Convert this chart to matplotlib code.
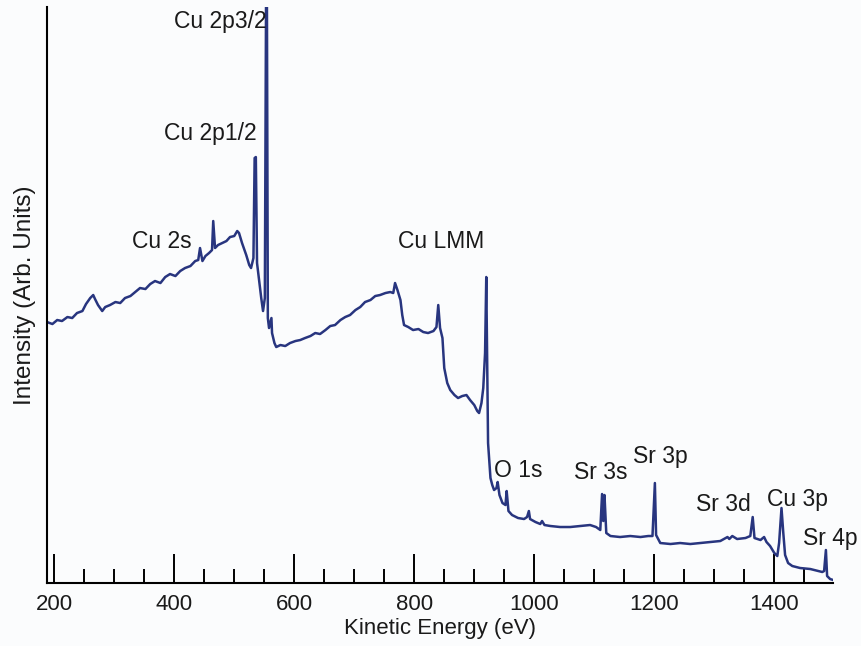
import matplotlib.pyplot as plt
from matplotlib.ticker import MultipleLocator

# XPS survey spectrum (kinetic energy in eV, intensity in arbitrary units)
energy = [188, 197, 205, 213, 222, 230, 238, 247, 253, 260, 265, 268, 273, 280,
          285, 293, 302, 310, 318, 327, 335, 343, 352, 360, 368, 377, 385, 393,
          402, 410, 418, 427, 435, 440, 443, 447, 452, 458, 463, 465, 468, 473,
          480, 487, 493, 500, 505, 508, 513, 520, 525, 528, 532, 534, 536, 538,
          542, 545, 548, 551, 553, 554.5, 556, 558, 562, 563, 567, 570, 577, 585,
          593, 602, 610, 618, 627, 635, 643, 652, 660, 668, 677, 685, 693, 702,
          710, 718, 727, 735, 743, 752, 760, 765, 768, 772, 777, 780, 783, 790,
          798, 807, 815, 823, 832, 837, 840, 843, 847, 850, 855, 860, 867, 873,
          880, 887, 893, 900, 905, 908, 912, 915, 918, 920, 922, 923, 927, 930,
          933, 937, 939, 942, 947, 952, 954, 957, 963, 973, 983, 988, 991, 993,
          1002, 1010, 1013, 1017, 1027, 1043, 1060, 1077, 1093, 1103, 1110, 1113,
          1115, 1117, 1120, 1127, 1143, 1160, 1177, 1190, 1197, 1201, 1203, 1210,
          1227, 1243, 1260, 1277, 1293, 1310, 1322, 1325, 1330, 1338, 1352, 1360,
          1364, 1367, 1377, 1383, 1387, 1393, 1400, 1405, 1408, 1412, 1415, 1418,
          1423, 1430, 1443, 1460, 1473, 1480, 1483, 1486, 1488, 1493, 1498]
intensity = [261, 259, 263, 262, 266, 265, 270, 272, 279, 285, 288, 284, 278, 272,
             276, 278, 281, 280, 285, 287, 291, 295, 294, 299, 302, 300, 306, 309,
             307, 312, 315, 317, 322, 323, 335, 322, 327, 330, 333, 362, 335, 338,
             340, 342, 346, 347, 352, 350, 340, 328, 318, 315, 325, 425, 426, 320,
             300, 285, 272, 285, 580, 580, 265, 255, 265, 250, 240, 236, 238, 237,
             240, 242, 243, 245, 247, 250, 249, 253, 257, 258, 263, 266, 268, 273,
             276, 281, 283, 287, 288, 290, 291, 290, 300, 293, 283, 268, 258, 256,
             253, 254, 251, 250, 252, 256, 278, 255, 245, 215, 200, 193, 188, 185,
             187, 188, 183, 178, 172, 170, 180, 195, 230, 306, 200, 140, 105, 98,
             93, 95, 101, 88, 80, 78, 92, 72, 68, 65, 64, 66, 72, 64,
             61, 59, 62, 58, 57, 56, 56, 57, 58, 56, 53, 89,
             62, 88, 50, 47, 46, 47, 46, 47, 47, 100, 48, 40,
             39, 40, 39, 40, 41, 42, 46, 44, 47, 44, 45, 47,
             66, 45, 43, 46, 41, 37, 30, 27, 40, 75, 50, 28,
             20, 17, 15, 14, 12, 11, 12, 33, 7, 4, 3]

# peak labels: text, energy, intensity position
labels = ['Cu 2p3/2', 'Cu 2p1/2', 'Cu 2s', 'Cu LMM', 'O 1s', 'Sr 3s',
          'Sr 3p', 'Sr 3d', 'Cu 3p', 'Sr 4p']
label_e = [477, 460, 380, 845, 973, 1110, 1210, 1315, 1438, 1493]
label_i = [562, 450, 342, 342, 113, 111, 127, 79, 84, 45]

plt.rcParams['font.family'] = ['Liberation Sans', 'DejaVu Sans']

fig = plt.figure(figsize=(8.61, 6.46), dpi=100)
fig.patch.set_facecolor('#fbfcfd')
ax = fig.add_axes([0.0546, 0.0975, 0.913, 0.8916])
ax.set_facecolor('#fbfcfd')

ax.plot(energy, intensity, color='#28357f', linewidth=1.8)

for txt, e, i in zip(labels, label_e, label_i):
    ax.text(e, i, txt, fontsize=16.5, ha='center', va='center', color='#1a1a1a')

ax.set_xlim(188, 1498)
ax.set_ylim(0, 576)

ax.spines['top'].set_visible(False)
ax.spines['right'].set_visible(False)
ax.spines['left'].set_linewidth(1.5)
ax.spines['bottom'].set_linewidth(1.5)

ax.xaxis.set_major_locator(MultipleLocator(200))
ax.xaxis.set_minor_locator(MultipleLocator(50))
ax.tick_params(axis='x', which='major', direction='in', length=21, width=1.4,
               labelsize=16, pad=8, labelcolor='#1a1a1a')
ax.tick_params(axis='x', which='minor', direction='in', length=10, width=1.4)
ax.set_yticks([])

ax.set_xlabel('Kinetic Energy (eV)', fontsize=16, labelpad=2, color='#1a1a1a')
ax.set_ylabel('Intensity (Arb. Units)', fontsize=17.5, labelpad=8, color='#1a1a1a')

plt.savefig('out.png', dpi=100, facecolor=fig.get_facecolor())
